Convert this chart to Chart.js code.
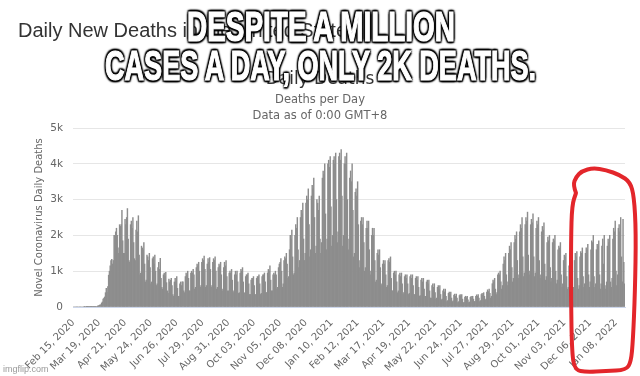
<!DOCTYPE html>
<html>
<head>
<meta charset="utf-8">
<script src="https://cdn.jsdelivr.net/npm/chart.js@4.4.1/dist/chart.umd.min.js"></script>
<style>
  html, body { margin: 0; padding: 0; background: #fff; }
  #wrap { position: relative; width: 640px; height: 376px; overflow: hidden; }
  #chart { position: absolute; left: 0; top: 0; }
  .txt { position: absolute; white-space: nowrap; line-height: 1; }
  #heading { left: 18px; top: 19px; font: 20px "Liberation Sans", Arial, sans-serif; color: #333; }
  .center { left: 0; width: 640px; text-align: center; font-family: "DejaVu Sans", sans-serif; }
  #title { top: 70px; font-size: 17px; color: #333; }
  #sub1 { top: 94px; font-size: 11.5px; color: #666; }
  #sub2 { top: 110px; font-size: 11.5px; color: #666; }
  #mark { left: 3px; top: 364px; font: 9px "Liberation Sans", Arial, sans-serif; color: #999; }
  .meme { position: absolute; white-space: nowrap; line-height: 1; color: #fff;
          font: bold 42px "Liberation Sans Narrow", "Liberation Sans", sans-serif;
          -webkit-text-stroke: 1.2px #fff;
          transform-origin: 0 0;
          text-shadow: 0 0 2px #000, 2px 2px 2px #000, -2px -2px 2px #000, 2px -2px 2px #000,
                       -2px 2px 2px #000, 0 2px 2px #000, 2px 0 2px #000, 0 -2px 2px #000, -2px 0 2px #000; }
</style>
</head>
<body>
<div id="wrap">
  <canvas id="chart" width="640" height="376"></canvas>
  <div class="txt" id="heading">Daily New Deaths in the United States</div>
  <div class="txt center" id="title">Daily Deaths</div>
  <div class="txt center" id="sub1">Deaths per Day</div>
  <div class="txt center" id="sub2">Data as of 0:00 GMT+8</div>
  <div class="txt" id="mark">imgflip.com</div>
  <span class="meme" id="meme1">DESPITE A MILLION</span>
  <span class="meme" id="meme2">CASES A DAY, ONLY 2K DEATHS.</span>
</div>
<script>
// daily deaths, one row per week (Sat..Fri)
const deathsPart1 = [ // Feb 15 - Aug 07, 2020
  0,0,0,0,0,0,0,
  0,0,0,0,0,0,0,
  1,0,1,4,1,3,2,
  3,2,4,5,8,9,11,
  10,14,17,28,33,46,58,
  60,110,140,220,250,280,400,
  520,400,570,890,1000,1150,1300,
  1330,1200,1300,2000,2000,2100,2200,
  2000,1650,1500,2300,2250,2300,2700,
  1850,1500,1500,2450,2300,2500,2750,
  1900,1300,1250,2300,2400,2200,2500,
  1800,1350,1300,2150,2400,2100,2550,
  1450,900,950,1700,1650,1600,1800,
  1200,700,750,1450,1400,1300,1500,
  1100,650,700,1350,1400,1200,1450,
  1000,600,650,1100,1250,1050,1360,
  800,550,500,900,950,850,970,
  680,450,380,780,700,750,800,
  600,350,300,700,800,700,850,
  520,300,300,650,700,600,700,
  700,450,400,850,950,900,1000,
  800,450,450,950,1000,950,1050,
  900,500,550,1100,1200,1150,1250,
  1000,550,600,1250,1350,1300,1420,
  1050,550,600,1200,1350,1250,1380
];
const deathsPart2 = [ // Aug 08, 2020 - Jan 29, 2021
  1050,550,600,1250,1350,1300,1400,
  1000,500,550,1100,1200,1150,1250,
  900,450,500,1100,1250,1150,1300,
  850,450,450,950,1000,950,1050,
  750,400,450,900,1000,900,1000,
  700,380,400,950,1050,1000,1100,
  700,400,380,850,900,900,950,
  650,350,350,750,800,800,850,
  600,350,350,800,850,850,900,
  650,350,380,850,900,900,950,
  700,400,400,950,1050,1000,1150,
  750,450,450,900,950,900,1000,
  900,500,550,1100,1200,1250,1350,
  1000,550,650,1300,1400,1350,1500,
  1200,800,850,1600,2000,1900,2150,
  1400,900,950,2000,2300,2200,2500,
  1600,1100,1300,2500,2700,2600,2900,
  1900,1300,1500,2900,3100,3000,3300,
  2300,1400,1600,3100,3400,3300,3600,
  2500,1500,1700,3000,2900,2700,3100,
  1900,1500,1800,3600,3800,3700,4000,
  2600,1600,1900,4000,4100,3900,4200,
  2800,1700,2000,4100,4200,4000,4300,
  3000,1800,2100,4200,4300,4100,4400,
  3100,1700,2000,4000,4200,4000,4300
];
const deathsPart3 = [ // Jan 30 - Jul 23, 2021
  3000,1600,1900,3600,3800,3500,4000,
  2700,1400,1500,3200,3300,3100,3500,
  2300,1100,1300,2400,2500,2300,2500,
  1800,1000,1100,2200,2400,2200,2400,
  1600,900,1000,2000,2200,2000,2200,
  1300,700,750,1500,1600,1450,1600,
  1100,600,650,1200,1300,1200,1300,
  900,550,600,1300,1350,1250,1400,
  800,450,450,950,1000,900,1000,
  700,400,450,900,950,850,950,
  650,350,400,850,900,800,900,
  650,350,380,850,900,800,900,
  600,350,350,800,850,750,850,
  550,300,320,750,800,700,800,
  500,300,300,700,750,650,750,
  450,250,250,600,650,550,650,
  400,220,250,550,600,500,600,
  350,200,220,450,500,420,500,
  300,150,180,380,420,350,420,
  250,150,170,330,360,300,360,
  250,120,150,320,350,300,350,
  220,120,130,280,300,260,300,
  200,120,140,270,300,250,300,
  220,150,160,300,340,300,350,
  250,150,180,350,380,340,400
];
const deathsPart4 = [ // Jul 24, 2021 - Jan 19, 2022
  300,200,220,420,480,430,500,
  380,250,300,650,750,700,800,
  500,350,400,900,950,900,1000,
  700,500,600,1200,1400,1300,1500,
  900,600,700,1500,1700,1600,1800,
  1100,700,800,1800,2000,1900,2100,
  1300,800,900,2100,2300,2200,2500,
  1400,850,950,2300,2500,2400,2650,
  1450,900,1000,2300,2450,2350,2600,
  1400,850,950,2200,2400,2300,2500,
  1300,800,900,2100,2250,2150,2350,
  1200,750,850,1800,1950,1850,2000,
  1100,700,800,1800,1900,1850,2000,
  1000,650,750,1600,1700,1650,1800,
  900,550,650,1300,1450,1400,1500,
  850,500,550,1150,1200,900,1100,
  600,450,550,1300,1500,1400,1550,
  800,500,600,1400,1550,1500,1650,
  850,550,650,1500,1650,1600,1750,
  900,550,700,1600,1850,1800,2000,
  850,550,650,1600,1750,1700,1850,
  900,500,650,1700,1900,1200,2000,
  600,500,700,1700,1900,1800,2000,
  700,550,800,1900,2200,2100,2400,
  1000,600,900,2200,2300,2100,2500,
  1400,700,2450,1250,650
];
const tickLabels = [
  'Feb 15, 2020','Mar 19, 2020','Apr 21, 2020','May 24, 2020','Jun 26, 2020','Jul 29, 2020',
  'Aug 31, 2020','Oct 03, 2020','Nov 05, 2020','Dec 08, 2020','Jan 10, 2021','Feb 12, 2021',
  'Mar 17, 2021','Apr 19, 2021','May 22, 2021','Jun 24, 2021','Jul 27, 2021','Aug 29, 2021',
  'Oct 01, 2021','Nov 03, 2021','Dec 06, 2021','Jan 08, 2022'
];
const labelStep = 33;

const deaths = deathsPart1.concat(deathsPart2, deathsPart3, deathsPart4);

// one category per day starting Feb 15, 2020
const MONTHS = ['Jan','Feb','Mar','Apr','May','Jun','Jul','Aug','Sep','Oct','Nov','Dec'];
const days = deaths.map((_, i) => {
  const d = new Date(Date.UTC(2020, 1, 15 + i));
  return MONTHS[d.getUTCMonth()] + ' ' + String(d.getUTCDate()).padStart(2, '0') + ', ' + d.getUTCFullYear();
});

// hand drawn red loop round the last weeks
const loopPlugin = {
  id: 'loop',
  afterDraw(chart) {
    const ctx = chart.ctx;
    const pts = [[576,193],[573,185],[576,177],[582,171],[593,168],[606,170],[620,175],[630,182],
                 [634,196],[636,232],[635,292],[633,340],[631,362],[626,370],[606,371],[586,372],
                 [575,370],[572,354],[571,300],[571,240],[572,205],[576,193]];
    ctx.save();
    ctx.strokeStyle = '#e3262b';
    ctx.lineWidth = 4;
    ctx.lineJoin = 'round';
    ctx.lineCap = 'round';
    ctx.beginPath();
    ctx.moveTo(pts[0][0], pts[0][1]);
    for (let i = 1; i < pts.length - 1; i++) {
      const mx = (pts[i][0] + pts[i + 1][0]) / 2, my = (pts[i][1] + pts[i + 1][1]) / 2;
      ctx.quadraticCurveTo(pts[i][0], pts[i][1], mx, my);
    }
    ctx.lineTo(pts[pts.length - 1][0], pts[pts.length - 1][1]);
    ctx.stroke();
    ctx.restore();
  }
};

new Chart(document.getElementById('chart'), {
  type: 'bar',
  data: {
    labels: days,
    datasets: [{
      data: deaths,
      backgroundColor: '#8d8d8d',
      barPercentage: 1,
      categoryPercentage: 1,
      borderWidth: 0
    }]
  },
  options: {
    responsive: false,
    animation: false,
    layout: { padding: { top: 128, left: 31, right: 15, bottom: 0 } },
    plugins: { legend: { display: false }, tooltip: { enabled: false } },
    scales: {
      x: {
        grid: { display: false },
        border: { display: true, color: '#ccd6eb' },
        ticks: {
          autoSkip: false,
          minRotation: 45,
          maxRotation: 45,
          padding: 2,
          color: '#666',
          font: { family: 'DejaVu Sans', size: 10 },
          callback: (v, i) => (i % labelStep === 0 ? tickLabels[i / labelStep] : '')
        },
        afterFit: (scale) => { scale.height = 69; }
      },
      y: {
        min: 0,
        max: 5000,
        grid: { color: '#e6e6e6', drawTicks: false },
        border: { display: false },
        ticks: {
          stepSize: 1000,
          padding: 10,
          color: '#666',
          font: { family: 'DejaVu Sans', size: 10.5 },
          callback: (v) => (v === 0 ? '0' : v / 1000 + 'k')
        },
        title: {
          display: true,
          text: 'Novel Coronavirus Daily Deaths',
          color: '#666',
          padding: { top: 2, bottom: 0 },
          font: { family: 'DejaVu Sans', size: 10 }
        },
        afterFit: (scale) => { scale.width = 42; }
      }
    }
  },
  plugins: [loopPlugin]
});

// fit the caption lines to the width they take in the picture
function fitMeme(id, left, width, top) {
  const el = document.getElementById(id);
  el.style.left = left + 'px';
  el.style.top = top + 'px';
  el.style.transform = 'scaleX(' + (width / el.offsetWidth) + ')';
}
fitMeme('meme1', 187, 268, 3);
fitMeme('meme2', 105, 431, 42);
</script>
</body>
</html>
